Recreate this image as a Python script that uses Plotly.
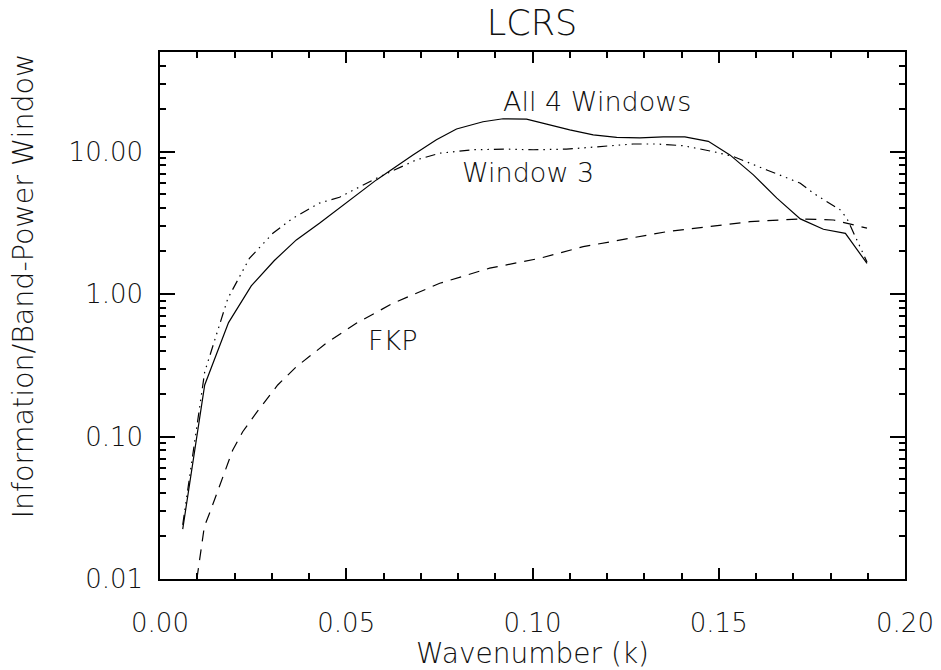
import plotly.graph_objects as go
import numpy as np

# Wavenumber k and information per band-power window (log scale)
k_all = [0.0061, 0.0120, 0.0184, 0.0245, 0.0307, 0.0366, 0.0428, 0.0509, 0.0581,
         0.0679, 0.0742, 0.0796, 0.0867, 0.0921, 0.0984, 0.1038, 0.1100, 0.1163,
         0.1226, 0.1288, 0.1351, 0.1409, 0.1472, 0.1530, 0.1593, 0.1656, 0.1719,
         0.1781, 0.1840, 0.1898]
info_all = [0.0224, 0.230, 0.63, 1.14, 1.72, 2.40, 3.14, 4.58, 6.33,
            9.48, 12.1, 14.4, 16.2, 17.0, 16.9, 15.6, 14.2, 13.1,
            12.6, 12.5, 12.7, 12.7, 11.8, 9.48, 6.86, 4.71, 3.37,
            2.85, 2.67, 1.64]

k_win3 = [0.0061, 0.0120, 0.0182, 0.0240, 0.0303, 0.0356, 0.0428, 0.0482, 0.0581,
          0.0688, 0.0751, 0.0840, 0.0930, 0.1002, 0.1091, 0.1181, 0.1270, 0.1333,
          0.1405, 0.1485, 0.1539, 0.1629, 0.1719, 0.1754, 0.1826, 0.1844, 0.1898]
info_win3 = [0.024, 0.284, 0.93, 1.78, 2.67, 3.40, 4.35, 4.78, 6.5,
             8.74, 9.74, 10.3, 10.4, 10.3, 10.4, 10.8, 11.3, 11.3,
             11.0, 10.0, 9.23, 7.43, 6.0, 5.1, 3.90, 3.40, 1.68]

k_fkp = [0.0099, 0.0119, 0.0133, 0.0155, 0.0195, 0.0222, 0.0258, 0.0316, 0.0366,
         0.0446, 0.0527, 0.0625, 0.0751, 0.0885, 0.1019, 0.1136, 0.1360, 0.1584,
         0.1718, 0.1808, 0.1898]
info_fkp = [0.010, 0.0233, 0.0289, 0.042, 0.080, 0.108, 0.146, 0.230, 0.309,
            0.451, 0.624, 0.861, 1.19, 1.52, 1.78, 2.15, 2.74, 3.22,
            3.37, 3.31, 2.90]

y_tickvals = [0.01, 0.1, 1, 10]
y_ticktext = ["0.01", "0.10", "1.00", "10.00"]
y_minorvals = [m * d for d in (0.01, 0.1, 1, 10) for m in range(2, 10) if m * d <= 50]

labels = [("All 4 Windows", 0.1174, 22.3), ("Window 3", 0.0989, 7.08), ("FKP", 0.0626, 0.469)]

FONT = "DejaVu Sans"
INK = "#111111"

fig = go.Figure()
fig.add_trace(go.Scatter(x=k_all, y=info_all, mode="lines",
                         line=dict(color="black", width=1.2)))
fig.add_trace(go.Scatter(x=k_win3, y=info_win3, mode="lines",
                         line=dict(color="black", width=1.2,
                                   dash="10px,5px,1.5px,5px,1.5px,5px,1.5px,5px")))
fig.add_trace(go.Scatter(x=k_fkp, y=info_fkp, mode="lines",
                         line=dict(color="black", width=1.2, dash="11px,8px")))
# transparent copy on the overlaid x axis that carries the fine ticks
fig.add_trace(go.Scatter(x=k_fkp, y=info_fkp, mode="lines", xaxis="x2",
                         line=dict(color="rgba(0,0,0,0)", width=0), hoverinfo="skip"))

for text, xv, yv in labels:
    fig.add_annotation(x=xv, y=np.log10(yv), text=text, showarrow=False,
                       xanchor="center", yanchor="middle",
                       font=dict(family=FONT, size=27, color=INK, weight=200))

# vertical axis title, set a little above the middle of the frame
fig.add_annotation(text="Information/Band-Power Window", textangle=-90,
                   xref="paper", yref="paper", x=-0.182, y=0.556,
                   xanchor="center", yanchor="middle", showarrow=False,
                   font=dict(family=FONT, size=28.5, color=INK, weight=200))

axis_common = dict(showgrid=False, zeroline=False, showline=True, linecolor="black",
                   linewidth=1.5, mirror="ticks", ticks="inside", tickcolor="black",
                   tickwidth=1.6, layer="above traces",
                   tickfont=dict(family=FONT, size=26, color=INK, weight=200))

fig.update_layout(
    xaxis=dict(range=[0, 0.2], tickmode="linear", tick0=0, dtick=0.05,
               tickformat=".2f", ticklen=11, ticklabelstandoff=20,
               title=dict(text="Wavenumber (k)", standoff=12,
                          font=dict(family=FONT, size=28, color=INK, weight=200)),
               **axis_common),
    xaxis2=dict(range=[0, 0.2], overlaying="x", anchor="y", side="bottom",
                tickmode="linear", tick0=0, dtick=0.01, ticklen=6,
                showticklabels=False, showgrid=False, zeroline=False, showline=False,
                mirror="ticks", ticks="inside", tickcolor="black", tickwidth=1.5),
)
fig.update_yaxes(type="log", range=[-2, np.log10(50)], tickvals=y_tickvals,
                 ticktext=y_ticktext, ticklen=15, ticklabelstandoff=10,
                 minor=dict(ticks="inside", tickvals=y_minorvals, ticklen=6,
                            tickcolor="black", tickwidth=1.5, showgrid=False),
                 **axis_common)

fig.update_layout(
    width=941, height=670,
    margin=dict(l=160, r=36, t=52, b=91, autoexpand=False),
    paper_bgcolor="white", plot_bgcolor="white",
    showlegend=False,
    title=dict(text="LCRS", x=532 / 941, xanchor="center", y=1 - 23 / 670,
               yanchor="middle", yref="container",
               font=dict(family=FONT, size=35, color=INK, weight=200)),
)

fig.write_html("out.html")
